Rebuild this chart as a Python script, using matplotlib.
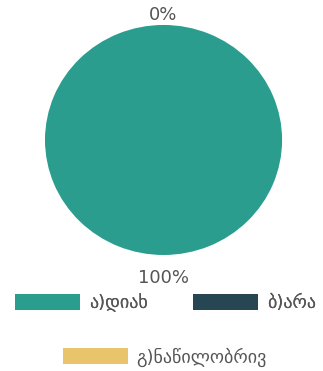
import numpy as np
import matplotlib.pyplot as plt
from matplotlib.patches import Patch

labels = ["ა)დიახ", "ბ)არა", "გ)ნაწილობრივ"]
values = [100, 0, 0]
colors = ["#2a9d8f", "#264653", "#e9c46a"]
text_color = "#555555"

fig = plt.figure(figsize=(3.23, 3.71), dpi=100)
ax = fig.add_axes([0.1393, 0.3127, 0.734, 0.62])

wedges, _ = ax.pie(values, colors=colors, startangle=90, counterclock=True,
                   radius=1, wedgeprops=dict(linewidth=0))
ax.set_aspect("auto")
ax.set_xlim(-1, 1)
ax.set_ylim(-1, 1)
ax.axis("off")

# percentage labels outside the wedges
total = sum(values)
shown = set()
for w, v in zip(wedges, values):
    mid = np.deg2rad((w.theta1 + w.theta2) / 2)
    pct = f"{v / total * 100:.0f}%"
    dist = 1.09 if np.sin(mid) > 0 else 1.2
    key = (round(np.cos(mid), 3), round(np.sin(mid), 3))
    if key in shown:
        continue
    shown.add(key)
    ax.text(dist * np.cos(mid), dist * np.sin(mid), pct, ha="center", va="center",
            fontsize=13, color=text_color, clip_on=False)

handles = [Patch(facecolor=c, edgecolor="none") for c in colors]
leg_kw = dict(frameon=False, fontsize=13, handlelength=3.6, handleheight=1.0,
              handletextpad=0.5, labelcolor=text_color)
leg1 = fig.legend(handles[:2], labels[:2], ncol=2, loc="center",
                  bbox_to_anchor=(0.512, 1 - 303 / 371), columnspacing=2.5, **leg_kw)
fig.add_artist(leg1)
fig.legend(handles[2:], labels[2:], loc="center",
           bbox_to_anchor=(0.51, 1 - 357 / 371), **leg_kw)

fig.savefig("out.png", dpi=100)
